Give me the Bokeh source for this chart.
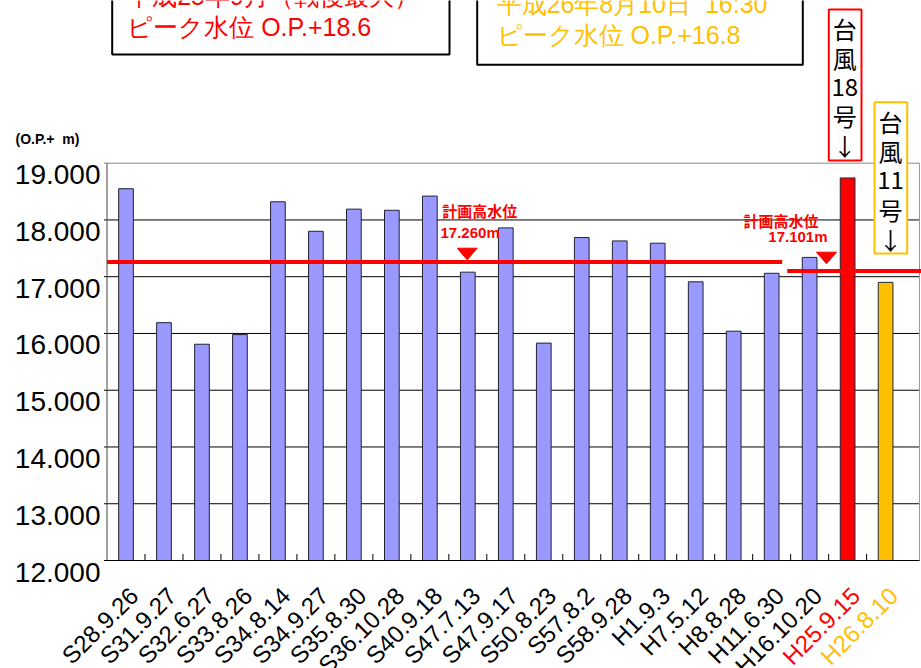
import math
from bokeh.plotting import figure
from bokeh.models import ColumnDataSource, Range1d
from bokeh.embed import file_html
from bokeh.resources import INLINE
from bokeh.core.properties import value

# ---------------- data ----------------
dates = ["S28.9.26", "S31.9.27", "S32.6.27", "S33.8.26", "S34.8.14", "S34.9.27",
         "S35.8.30", "S36.10.28", "S40.9.18", "S47.7.13", "S47.9.17", "S50.8.23",
         "S57.8.2", "S58.9.28", "H1.9.3", "H7.5.12", "H8.8.28", "H11.6.30",
         "H16.10.20", "H25.9.15", "H26.8.10"]
peaks = [18.55, 16.19, 15.81, 15.98, 18.32, 17.80, 18.19, 18.17, 18.42, 17.08,
         17.86, 15.83, 17.69, 17.63, 17.59, 16.91, 16.04, 17.06, 17.34, 18.74, 16.90]
bar_colors = ["#9999FF"] * 19 + ["#FF0000", "#FFC000"]
label_colors = ["#000000"] * 19 + ["#FF0000", "#FFC000"]
y_ticks = [12, 13, 14, 15, 16, 17, 18, 19]
y_tick_labels = ["12.000", "13.000", "14.000", "15.000", "16.000", "17.000", "18.000", "19.000"]
unit_label = "(O.P.+\u00a0 m)"
plan_levels = [17.260, 17.101]
plan_texts = ["17.260m", "17.101m"]
plan_title = "計画高水位"
box1_lines = ["平成25年9月（戦後最大）", "ピーク水位 O.P.+18.6"]
box2_lines = ["平成26年8月10日\u00a0 16:30", "ピーク水位 O.P.+16.8"]
typhoon18 = ["台", "風", "18", "号", "↓"]
typhoon11 = ["台", "風", "11", "号", "↓"]

# ---------------- layout (pixel scale of the chart) ----------------
W, H = 921, 668
PX_X = 37.98          # px per category
PX_Y = 56.76          # px per metre
C0_PX = 125.5         # centre of first category, px from left
Y12_PX = 560.0        # y of 12.000 line, px from top


def ix(px):           # horizontal pixel -> category coordinate
    return (px - C0_PX) / PX_X


def vy(py):           # vertical pixel -> metre coordinate
    return 12 + (Y12_PX - py) / PX_Y


XL, XR = -0.5, ix(919)      # frame edges
p = figure(width=W, height=H, output_backend="svg", toolbar_location=None,
           x_range=Range1d(ix(0), ix(W)), y_range=Range1d(vy(H), vy(0)),
           x_axis_location=None, y_axis_location=None,
           min_border=0, min_border_left=0, min_border_right=0,
           min_border_top=0, min_border_bottom=0)
p.outline_line_color = None
p.background_fill_color = "white"
p.border_fill_color = "white"
p.grid.visible = False

# frame, grid lines, ticks
tick_out = 3 / PX_X
p.segment(x0=[XL - tick_out] * 6, x1=[XR] * 6, y0=y_ticks[1:-1], y1=y_ticks[1:-1],
          line_color="black", line_width=1)
p.segment(x0=[XL - tick_out], x1=[XR], y0=[19], y1=[19], line_color="#888888", line_width=1)
p.segment(x0=[XL, XR], x1=[XL, XR], y0=[12, 12], y1=[19, 19],
          line_color=["#444444", "#999999"], line_width=1)
bounds_x = [i + 0.5 for i in range(len(dates) - 1)]
p.segment(x0=bounds_x, x1=bounds_x, y0=[12] * len(bounds_x),
          y1=[12 + 6.5 / PX_Y] * len(bounds_x), line_color="black", line_width=1)

# bars
src = ColumnDataSource(dict(x=list(range(len(dates))), top=peaks, color=bar_colors,
                            date=dates, lc=label_colors))
p.vbar(x="x", top="top", bottom=12, width=14.7 / PX_X, fill_color="color",
       line_color="#222233", line_width=1, source=src)
p.segment(x0=[XL - tick_out], x1=[XR], y0=[12], y1=[12], line_color="black", line_width=1.2)

# planned high water level lines
p.segment(x0=[XL, ix(786.7)], x1=[ix(781.7), ix(W)], y0=plan_levels, y1=plan_levels,
          line_color="#FF0000", line_width=4)

# triangle markers (tip just above the line)
mark_x = [ix(466.7), ix(826)]
mark_tip = [vy(259.3), vy(263.3)]
hw = 10 / PX_X
th = 11.6 / PX_Y
p.patches(xs=[[mx - hw, mx + hw, mx] for mx in mark_x],
          ys=[[mt + th, mt + th, mt] for mt in mark_tip],
          fill_color="#FF0000", line_color="#FF0000")

# labels for plan levels
p.text(x=[ix(441.7), ix(743)], y=[vy(210), vy(219.5)], text=[plan_title, plan_title],
       text_font=value("Noto Sans CJK JP"), text_font_style="bold",
       text_font_size="15px", text_color="#FF0000", text_baseline="middle",
       text_align="left")
p.text(x=[ix(440), ix(827)], y=[vy(232.2), vy(235.7)], text=plan_texts,
       text_font=value("Liberation Sans"), text_font_style="bold",
       text_font_size="15px", text_color="#FF0000", text_baseline="middle",
       text_align=["left", "right"])

# top text boxes
p.quad(left=[ix(111.7), ix(476.7)], right=[ix(449), ix(802.3)],
       bottom=[vy(54), vy(64.3)], top=[vy(-20), vy(-20)],
       fill_color="white", line_color="black", line_width=2)
p.text(x=[ix(126.7)] * 2, y=[vy(-5), vy(26)], text=box1_lines,
       text_font=value("Liberation Sans"), text_font_size="25px",
       text_color="#FF0000", text_baseline="middle")
p.text(x=[ix(496)] * 2, y=[vy(3), vy(34)], text=box2_lines,
       text_font=value("Liberation Sans"), text_font_size="25px",
       text_color="#FFC000", text_baseline="middle")

# typhoon boxes with vertical text
p.quad(left=[ix(828.3), ix(874)], right=[ix(861), ix(906.7)],
       bottom=[vy(160), vy(253)], top=[vy(9), vy(101.7)], fill_color="white",
       line_color=["#FF0000", "#FFC000"], line_width=2)
p.text(x=[ix(844.3)] * 5, y=[vy(27.5 + k * 29.25) for k in range(5)], text=typhoon18,
       text_font=value("Noto Sans CJK JP"), text_font_size="24px",
       text_color="black", text_align="center", text_baseline="middle")
p.text(x=[ix(890)] * 5, y=[vy(121 + k * 29.4) for k in range(5)], text=typhoon11,
       text_font=value("Noto Sans CJK JP"), text_font_size="24px",
       text_color="black", text_align="center", text_baseline="middle")

# x tick labels (coloured, rotated)
p.text(x=[i + 8 / PX_X for i in range(len(dates))], y=[12 - 31 / PX_Y] * len(dates),
       text=dates, angle=math.pi / 4, text_align="right", text_baseline="middle",
       text_font=value("Liberation Sans"), text_font_size="24px",
       text_color=label_colors)

# y tick labels
p.text(x=[ix(100)] * len(y_ticks), y=[v - 11.5 / PX_Y for v in y_ticks], text=y_tick_labels,
       text_align="right", text_baseline="middle",
       text_font=value("Liberation Sans"), text_font_size="28px", text_color="black")

# unit label
p.text(x=[ix(15)], y=[vy(138)], text=[unit_label], text_font=value("Liberation Sans"),
       text_font_size="14px", text_font_style="bold", text_color="black",
       text_baseline="middle")

open("out.html", "w").write(file_html(p, INLINE))
